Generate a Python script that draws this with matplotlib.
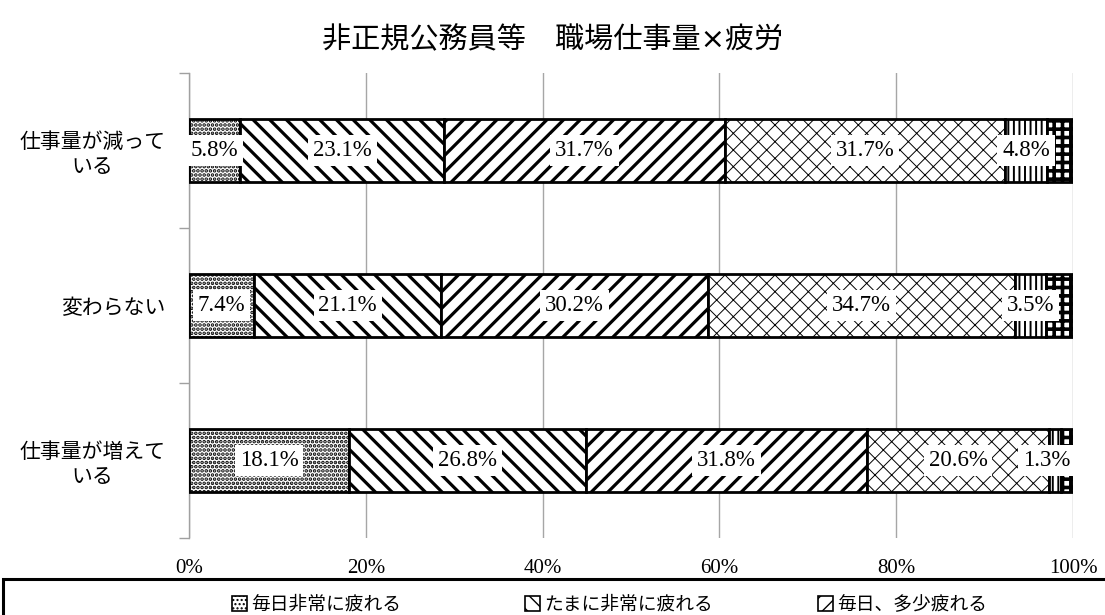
import matplotlib
matplotlib.use("Agg")
import matplotlib.pyplot as plt
from matplotlib.patches import Rectangle, Patch

# ---- data ----
categories = ["仕事量が減って\nいる", "変わらない", "仕事量が増えて\nいる"]
series_names = ["毎日非常に疲れる", "たまに非常に疲れる", "毎日、多少疲れる",
                "たまに多少疲れる", "疲れない", "無回答"]
every_day_very = [5.8, 7.4, 18.1]
sometimes_very = [23.1, 21.1, 26.8]
every_day_some = [31.7, 30.2, 31.8]
sometimes_some = [31.7, 34.7, 20.6]
not_tired = [4.8, 3.5, 1.3]
no_answer = [2.9, 3.1, 1.4]
series_values = [every_day_very, sometimes_very, every_day_some,
                 sometimes_some, not_tired, no_answer]
show_label = [True, True, True, True, True, False]
xticks = [0, 20, 40, 60, 80, 100]
xticklabels = ["0%", "20%", "40%", "60%", "80%", "100%"]
title = "非正規公務員等　職場仕事量×疲労"

# ---- style ----
jp = ["Noto Sans CJK JP", "DejaVu Sans"]
num_font = "Liberation Serif"
hatches = ["....", "\\\\", "//", "xx", "|||", "++"]
hatch_lw = [1.8, 2.3, 2.3, 0.7, 1.4, 2.6]

W, H = 1105, 615
fig = plt.figure(figsize=(W / 100, H / 100), dpi=100)
ax = fig.add_axes([189 / W, 1 - 538 / H, (1073 - 189) / W, (538 - 73) / H])

ypos = list(range(len(categories)))
left = [0.0] * len(categories)
bar_h = 0.41
handles = []
for vals, name, hat, hlw, lab in zip(series_values, series_names, hatches, hatch_lw, show_label):
    with plt.rc_context({"hatch.linewidth": hlw, "hatch.color": "black"}):
        bars = ax.barh(ypos, vals, left=left, height=bar_h, color="white",
                       edgecolor="black", linewidth=2.0, hatch=hat, zorder=3)
        for b in bars:
            try:
                b.set_hatch_linewidth(hlw)
            except Exception:
                pass
        h = Patch(facecolor="white", edgecolor="black", hatch=hat, linewidth=1.2)
        try:
            h.set_hatch_linewidth(min(hlw, 1.5))
        except Exception:
            pass
        handles.append(h)
    if lab:
        for i, v in enumerate(vals):
            cx = left[i] + v / 2
            cx = min(cx, 97.0)
            ax.text(cx, ypos[i], f"{v:.1f}%", ha="center", va="center",
                    fontsize=16.5, family=num_font, color="black", zorder=5,
                    bbox=dict(facecolor="white", edgecolor="none", pad=3.5))
    left = [l + v for l, v in zip(left, vals)]

ax.set_xlim(0, 100)
ax.set_ylim(len(categories) - 0.5, -0.5)
ax.set_xticks(xticks)
ax.set_xticklabels(xticklabels, family=num_font, fontsize=15)
ax.tick_params(axis="x", length=0, pad=15)
ax.set_yticks(ypos)
ax.set_yticklabels(categories, family=jp, fontsize=15, ha="right",
                   multialignment="center", linespacing=1.2)
ax.tick_params(axis="y", which="major", length=0, pad=17)
ax.set_yticks([-0.5, 0.5, 1.5, 2.5], minor=True)
ax.tick_params(axis="y", which="minor", length=7, color="#a0a0a0", width=1)
ax.grid(axis="x", color="#a6a6a6", linewidth=1, zorder=0)
for s in ["top", "right", "bottom"]:
    ax.spines[s].set_visible(False)
ax.spines["left"].set_color("#a0a0a0")
ax.spines["left"].set_linewidth(1)

fig.text(0.50, 1 - 40 / H, title, ha="center", va="center", fontsize=21,
         family=["DejaVu Sans", "Noto Sans CJK JP"])

# legend frame (cropped at figure bottom, as in the reference)
fig.add_artist(Rectangle((3 / W, -0.2), 1.2, 0.2 + (1 - 579 / H), transform=fig.transFigure,
                         fill=False, edgecolor="black", linewidth=2.2, clip_on=False))
# one legend column per pair of series; the second row falls below the figure edge
col_x = [232, 525, 818]
for c, x in enumerate(col_x):
    idx = [c, c + 3]
    fig.legend([handles[i] for i in idx], [series_names[i] for i in idx],
               ncol=1, loc="upper left", bbox_to_anchor=(x / W, 1 - 594 / H),
               frameon=False, borderpad=0, borderaxespad=0,
               handlelength=0.8, handleheight=0.8, handletextpad=0.2,
               prop={"family": jp, "size": 13.5})

fig.savefig("out.png", dpi=100)
